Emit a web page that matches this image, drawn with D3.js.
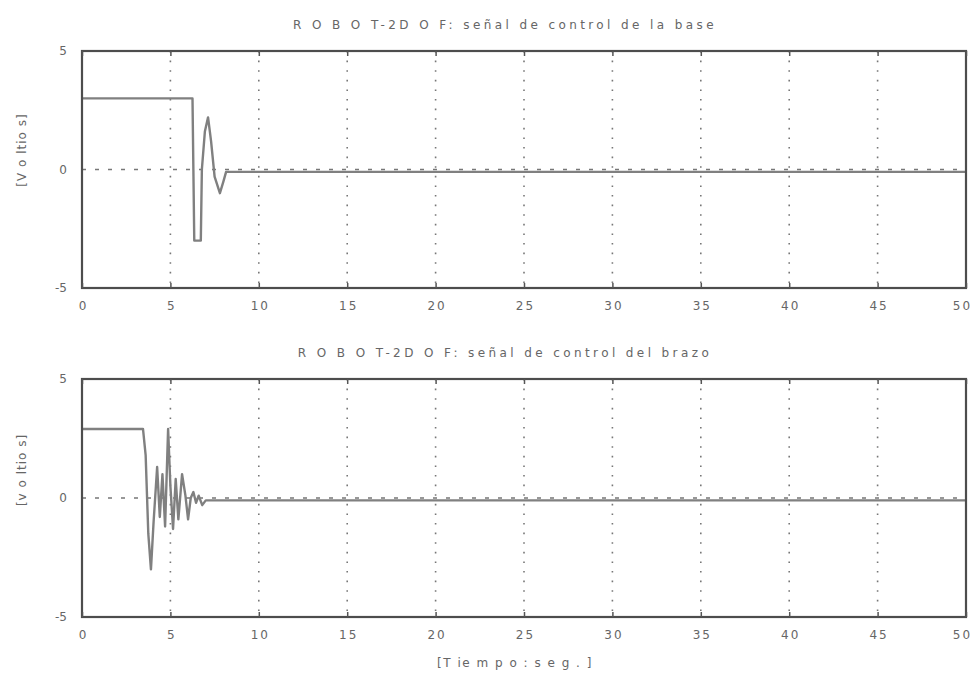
<!DOCTYPE html>
<html>
<head>
<meta charset="utf-8">
<script src="https://cdn.jsdelivr.net/npm/d3@7"></script>
<style>
  body { margin: 0; background: #fff; }
  svg text { font-family: "DejaVu Sans", sans-serif; fill: #666; }
</style>
</head>
<body>
<div id="plot"></div>
<script>
// time ticks and y ticks shared by both panels
var xTicks = [0, 5, 10, 15, 20, 25, 30, 35, 40, 45, 50];
var yTicks = [-5, 0, 5];

// base control signal
var baseT = [0, 6.25, 6.3, 6.35, 6.72, 6.78, 6.95, 7.13, 7.3, 7.5, 7.8, 8.0, 8.15, 50];
var baseV = [3, 3, 0, -3, -3, 0, 1.6, 2.2, 1.2, -0.3, -1.0, -0.5, -0.1, -0.1];

// arm control signal
var armT = [0, 3.45, 3.6, 3.75, 3.9, 4.05, 4.25, 4.4, 4.55, 4.7, 4.87, 5.0, 5.15, 5.3, 5.45, 5.66, 5.85, 6.0, 6.15, 6.3, 6.45, 6.6, 6.8, 7.0, 7.3, 50];
var armV = [2.9, 2.9, 1.8, -1.5, -3.0, -1.0, 1.3, -0.8, 1.0, -1.2, 2.9, 0.5, -1.3, 0.8, -0.9, 1.0, 0.1, -0.9, 0.0, 0.25, -0.2, 0.1, -0.3, -0.1, -0.1, -0.1];

var titles = ["R O B O T-2D O F:  señal de control de la base", "R O B O T-2D O F:  señal de control del brazo"];
var yLabels = ["[V o ltio s]", "[v o ltio s]"];
var xLabel = "[T ie m  p o :  s e g . ]";

var width = 975, height = 676;
var left = 82, right = 966;

var panels = [
    {top: 51, bottom: 288, t: baseT, v: baseV, title: titles[0], titleY: 29, ylab: yLabels[0], ylabY: 150},
    {top: 379, bottom: 617, t: armT, v: armV, title: titles[1], titleY: 357, ylab: yLabels[1], ylabY: 470}
];

var svg = d3.select("#plot").append("svg")
    .attr("width", width)
    .attr("height", height);

var x = d3.scaleLinear().domain([0, 50]).range([left, right]);

panels.forEach(function(p) {
    var y = d3.scaleLinear().domain([-5, 5]).range([p.bottom, p.top]);
    var g = svg.append("g");

    // vertical dotted grid
    g.append("g")
        .selectAll("line")
        .data(xTicks.slice(1, -1))
        .enter().append("line")
        .attr("x1", d => x(d)).attr("x2", d => x(d))
        .attr("y1", p.top).attr("y2", p.bottom)
        .attr("stroke", "#777")
        .attr("stroke-width", 1.6)
        .attr("stroke-dasharray", "1.6,8");

    // horizontal dashed grid at zero
    g.append("line")
        .attr("x1", left).attr("x2", right)
        .attr("y1", y(0)).attr("y2", y(0))
        .attr("stroke", "#777")
        .attr("stroke-width", 1.6)
        .attr("stroke-dasharray", "4,9");

    // signal
    var pts = p.t.map((t, i) => ({t: t, v: p.v[i]}));
    var line = d3.line().x(d => x(d.t)).y(d => y(d.v));
    g.append("path")
        .datum(pts)
        .attr("d", line)
        .attr("fill", "none")
        .attr("stroke", "#808080")
        .attr("stroke-width", 2.4)
        .attr("stroke-linejoin", "round");

    // frame
    g.append("rect")
        .attr("x", left).attr("y", p.top)
        .attr("width", right - left).attr("height", p.bottom - p.top)
        .attr("fill", "none")
        .attr("stroke", "#4d4d4d")
        .attr("stroke-width", 2.2);

    // x axis labels + inner ticks
    var xa = g.append("g")
        .attr("transform", "translate(0," + p.bottom + ")")
        .call(d3.axisBottom(x).tickValues(xTicks).tickSizeInner(-5).tickSizeOuter(0).tickPadding(13));
    xa.select(".domain").remove();
    xa.selectAll("line").attr("stroke", "#555").attr("stroke-width", 1.5);
    xa.selectAll("text")
        .attr("font-size", 12)
        .attr("letter-spacing", 2)
        .attr("dx", d => d === 50 ? -4 : 1)
        .attr("fill", "#666");

    var xt = g.append("g")
        .attr("transform", "translate(0," + p.top + ")")
        .call(d3.axisTop(x).tickValues(xTicks).tickSizeInner(-5).tickSizeOuter(0).tickFormat(""));
    xt.select(".domain").remove();
    xt.selectAll("line").attr("stroke", "#555").attr("stroke-width", 1.5);

    var ya = g.append("g")
        .attr("transform", "translate(" + left + ",0)")
        .call(d3.axisLeft(y).tickValues(yTicks).tickSizeInner(0).tickSizeOuter(0).tickPadding(15)
            .tickFormat(d => String(d)));
    ya.select(".domain").remove();
    ya.selectAll("text").attr("font-size", 12).attr("fill", "#666");

    // title
    svg.append("text")
        .attr("x", 505)
        .attr("y", p.titleY)
        .attr("text-anchor", "middle")
        .attr("font-size", 12)
        .attr("letter-spacing", 3.4)
        .text(p.title);

    // y label
    svg.append("text")
        .attr("transform", "translate(26," + p.ylabY + ") rotate(-90)")
        .attr("text-anchor", "middle")
        .attr("font-size", 12)
        .attr("letter-spacing", 1)
        .text(p.ylab);
});

svg.append("text")
    .attr("x", 515)
    .attr("y", 667)
    .attr("text-anchor", "middle")
    .attr("font-size", 12)
    .attr("letter-spacing", 1.5)
    .text(xLabel);
</script>
</body>
</html>
